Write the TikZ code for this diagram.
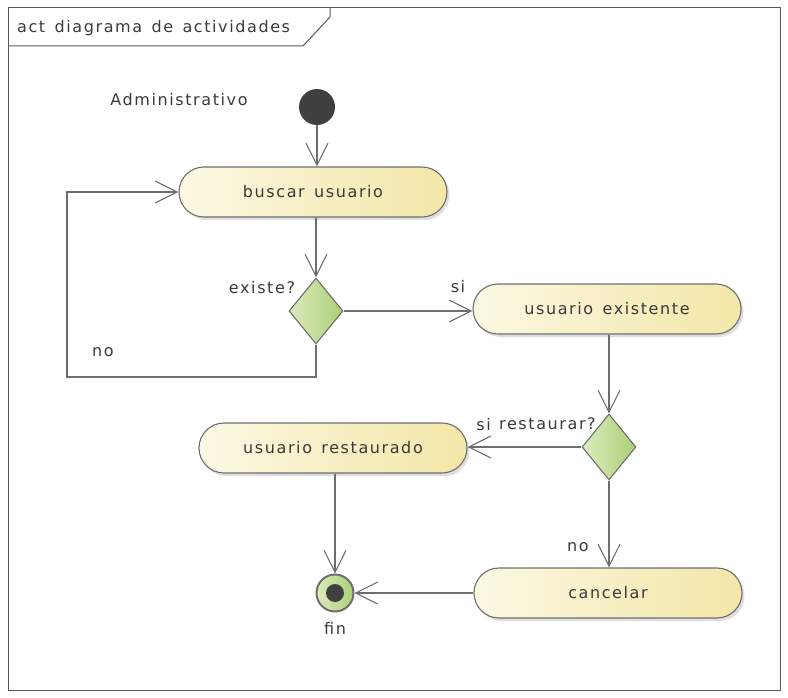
\documentclass[tikz,border=0pt]{standalone}
\usepackage{fontspec}
\setmainfont[LetterSpace=10, WordSpace=1.4]{DejaVu Sans}
\usepackage{tikz}
\usetikzlibrary{shapes.geometric, arrows.meta, positioning, shadows}

\definecolor{linegray}{HTML}{6E6E6E}
\definecolor{textgray}{HTML}{3A3A3A}
\definecolor{actleft}{HTML}{FBF8E3}
\definecolor{actright}{HTML}{F3E7A8}
\definecolor{decleft}{HTML}{DCEBBE}
\definecolor{decright}{HTML}{ABD075}
\definecolor{dotdark}{HTML}{404040}

\begin{document}
\begin{tikzpicture}[
    x=1pt, y=-1pt,
    activity/.style={rectangle, rounded corners=25pt, draw=linegray, line width=1.1pt, left color=actleft, right color=actright, minimum width=268pt, minimum height=50pt, text=textgray, font=\fontsize{16}{19}\selectfont, drop shadow={shadow xshift=2.5pt, shadow yshift=-3pt, opacity=0.25, fill=gray}},
    decision/.style={diamond, draw=linegray, line width=1.1pt, left color=decleft, right color=decright, minimum width=54pt, minimum height=66pt, inner sep=0pt},
    lbl/.style={text=textgray, font=\fontsize{16}{19}\selectfont, inner sep=0pt},
    arrow/.style={linegray, line width=1.1pt, -{Straight Barb[length=22pt, width=22pt]}}
]
\useasboundingbox (0,0) rectangle (788,698);

% frame
\draw[linegray!80!black, line width=1pt] (8,8) rectangle (780,690);
\draw[linegray!80!black, line width=1pt] (8,46) -- (303,46) -- (330,17) -- (330,8);
\node[lbl, anchor=west] (title) at (17,28) {act diagrama de actividades};
\node[lbl] (lane) at (179,100) {Administrativo};

\node[circle, fill=dotdark, minimum size=36pt, inner sep=0pt] (start) at (317,107) {};
\node[activity] (buscar) at (313,192) {buscar usuario};
\node[decision] (existe) at (316,311) {};
\node[activity] (existente) at (607,309) {usuario existente};
\node[decision] (restaurar) at (609,447) {};
\node[activity] (restaurado) at (333,448) {usuario restaurado};
\node[activity] (cancelar) at (608,593) {cancelar};
\node[circle, draw=linegray, line width=2pt, left color=decleft, right color=decright, minimum size=37pt, inner sep=0pt,
      path picture={\fill[dotdark] (path picture bounding box.center) circle (9pt);}] (fin) at (335,593) {};
\coordinate (loopcorner) at (67,377);

\node[lbl] (existelbl) at (262,288) {existe?};
\node[lbl] (si1) at (458,287) {si};
\node[lbl, anchor=west] (restaurarlbl) at (499,424) {restaurar?};
\node[lbl, anchor=east] (si2) at (491,425) {si};
\node[lbl] (no1) at (103,352) {no};
\node[lbl] (no2) at (578,547) {no};
\node[lbl] (finlbl) at (335,628) {fin};

\draw[arrow] (start) -- (start |- buscar.north);
\draw[arrow] (buscar.south -| existe) -- (existe.north);
\draw[arrow] (existe.east) -- (existente.west |- existe.east);
\draw[arrow] (existe.south) |- (loopcorner) |- (buscar.west);
\draw[arrow] (existente.south -| restaurar) -- (restaurar.north);
\draw[arrow] (restaurar.west) -- (restaurado.east |- restaurar.west);
\draw[arrow] (restaurar.south) -- (cancelar.north -| restaurar.south);
\draw[arrow] (restaurado.south -| fin) -- (fin.north);
\draw[arrow] (cancelar.west) -- (fin.east);

\end{tikzpicture}
\end{document}
